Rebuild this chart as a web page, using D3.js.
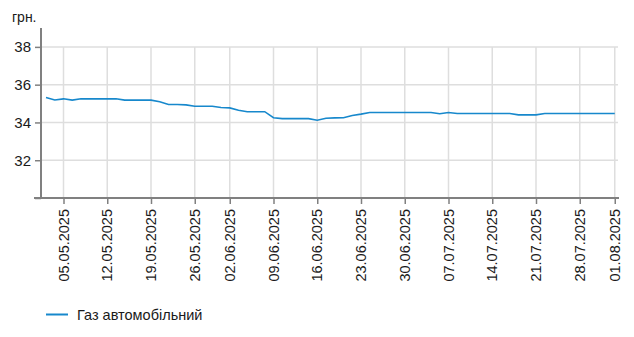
<!DOCTYPE html>
<html>
<head>
<meta charset="utf-8">
<script src="https://cdn.jsdelivr.net/npm/d3@7"></script>
<style>
  body { margin: 0; background: #fff; }
  text { font-family: "Liberation Sans", Arial, sans-serif; fill: #1a1a1a; }
</style>
</head>
<body>
<div id="chart"></div>
<script>
const dates = [
  "01.05.2025", "02.05.2025", "05.05.2025", "06.05.2025", "07.05.2025", "08.05.2025", "09.05.2025",
  "12.05.2025", "13.05.2025", "14.05.2025", "15.05.2025", "16.05.2025",
  "19.05.2025", "20.05.2025", "21.05.2025", "22.05.2025", "23.05.2025",
  "26.05.2025", "27.05.2025", "28.05.2025", "29.05.2025",
  "02.06.2025", "03.06.2025", "04.06.2025", "05.06.2025", "06.06.2025",
  "09.06.2025", "10.06.2025", "11.06.2025", "12.06.2025", "13.06.2025",
  "16.06.2025", "17.06.2025", "18.06.2025", "19.06.2025", "20.06.2025",
  "23.06.2025", "24.06.2025", "25.06.2025", "26.06.2025", "27.06.2025",
  "30.06.2025", "01.07.2025", "02.07.2025", "03.07.2025", "04.07.2025",
  "07.07.2025", "08.07.2025", "09.07.2025", "10.07.2025", "11.07.2025",
  "14.07.2025", "15.07.2025", "16.07.2025", "17.07.2025", "18.07.2025",
  "21.07.2025", "22.07.2025", "23.07.2025", "24.07.2025", "25.07.2025",
  "28.07.2025", "29.07.2025", "30.07.2025", "31.07.2025", "01.08.2025"
];

const gasPrices = [
  35.32, 35.19, 35.25, 35.18, 35.25, 35.25, 35.25,
  35.25, 35.25, 35.18, 35.18, 35.18,
  35.18, 35.10, 34.95, 34.95, 34.93,
  34.86, 34.86, 34.86, 34.79,
  34.77, 34.65, 34.57, 34.57, 34.57,
  34.25, 34.20, 34.20, 34.20, 34.20,
  34.12, 34.22, 34.24, 34.25, 34.37,
  34.44, 34.53, 34.53, 34.53, 34.53,
  34.53, 34.53, 34.53, 34.53, 34.46,
  34.53, 34.47, 34.47, 34.47, 34.47,
  34.47, 34.47, 34.47, 34.40, 34.40,
  34.40, 34.47, 34.47, 34.47, 34.47,
  34.47, 34.47, 34.47, 34.47, 34.47
];

const xTickLabels = [
  "05.05.2025", "12.05.2025", "19.05.2025", "26.05.2025", "02.06.2025", "09.06.2025",
  "16.06.2025", "23.06.2025", "30.06.2025", "07.07.2025", "14.07.2025", "21.07.2025",
  "28.07.2025", "01.08.2025"
];
const yTicks = [32, 34, 36, 38];
const seriesName = "Газ автомобільний";
const unitLabel = "грн.";

const W = 634, H = 337;
const plotLeft = 41, plotTop = 28, plotBottom = 198, gridTop = 47, gridRight = 618;

const svg = d3.select("#chart")
  .append("svg")
  .attr("width", W)
  .attr("height", H);

const data = dates.map((d, i) => ({ date: d, value: gasPrices[i] }));

const x = d3.scalePoint()
  .domain(dates)
  .range([46, 614.75]);

const y = d3.scaleLinear()
  .domain([30, 39])
  .range([plotBottom, plotTop]);

// grid
svg.append("g")
  .selectAll("line")
  .data(yTicks)
  .join("line")
  .attr("x1", plotLeft)
  .attr("x2", gridRight)
  .attr("y1", d => y(d))
  .attr("y2", d => y(d))
  .attr("stroke", "#dedede")
  .attr("stroke-width", 1.5);

svg.append("g")
  .selectAll("line")
  .data(xTickLabels)
  .join("line")
  .attr("x1", d => x(d))
  .attr("x2", d => x(d))
  .attr("y1", gridTop)
  .attr("y2", plotBottom)
  .attr("stroke", "#dedede")
  .attr("stroke-width", 1.5);

// y axis
const yAxis = svg.append("g")
  .attr("transform", `translate(${plotLeft},0)`)
  .call(d3.axisLeft(y).tickValues([30, ...yTicks]).tickSize(6).tickPadding(4)
    .tickFormat(d => d === 30 ? "" : d));
yAxis.select(".domain").attr("stroke", "#808080").attr("stroke-width", 2)
  .attr("d", `M0,${plotTop}V${plotBottom}`);
yAxis.selectAll(".tick line").attr("stroke", "#808080").attr("stroke-width", 1.5);
yAxis.selectAll(".tick text").attr("font-size", "15px").attr("fill", "#1a1a1a")
  .style("font-family", "'Liberation Sans', Arial, sans-serif");

// x axis
const xAxis = svg.append("g")
  .attr("transform", `translate(0,${plotBottom})`)
  .call(d3.axisBottom(x).tickValues(xTickLabels).tickSize(6).tickFormat(""));
xAxis.select(".domain").attr("stroke", "#808080").attr("stroke-width", 2)
  .attr("d", `M${plotLeft - 7},0H${gridRight + 1}`);
xAxis.selectAll(".tick line").attr("stroke", "#808080").attr("stroke-width", 1.5);

svg.append("g")
  .selectAll("text")
  .data(xTickLabels)
  .join("text")
  .attr("transform", d => `translate(${x(d)},${plotBottom + 11}) rotate(-90)`)
  .attr("text-anchor", "end")
  .attr("dy", "0.36em")
  .attr("font-size", "14.5px")
  .text(d => d);

// unit label
svg.append("text")
  .attr("x", 12)
  .attr("y", 22)
  .attr("font-size", "14px")
  .text(unitLabel);

// line
const line = d3.line()
  .x(d => x(d.date))
  .y(d => y(d.value));

svg.append("path")
  .datum(data)
  .attr("fill", "none")
  .attr("stroke", "#1788cc")
  .attr("stroke-width", 1.6)
  .attr("d", line);

// legend
svg.append("line")
  .attr("x1", 46)
  .attr("x2", 68)
  .attr("y1", 314.5)
  .attr("y2", 314.5)
  .attr("stroke", "#1788cc")
  .attr("stroke-width", 2);

svg.append("text")
  .attr("x", 77)
  .attr("y", 320)
  .attr("font-size", "14.5px")
  .text(seriesName);
</script>
</body>
</html>
